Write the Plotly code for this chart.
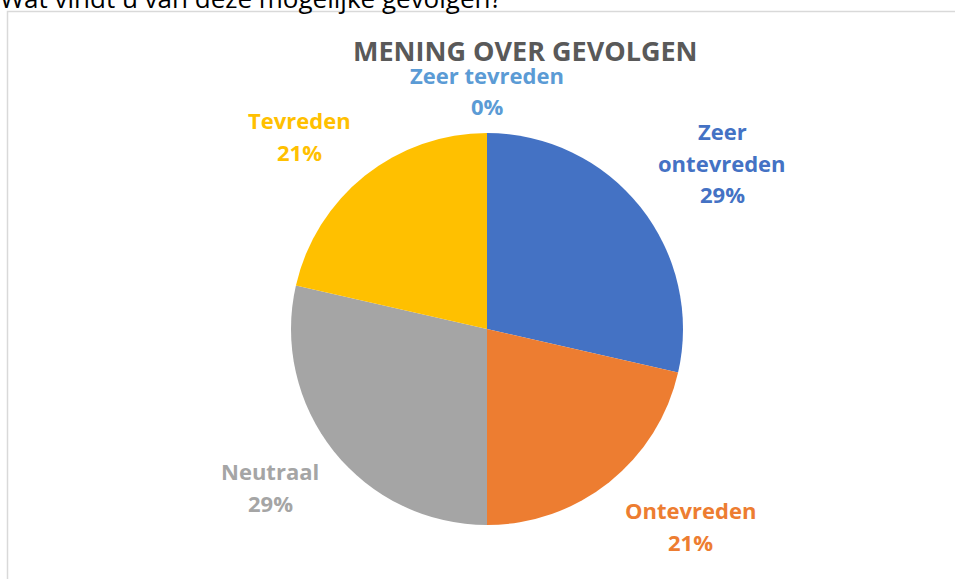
import plotly.graph_objects as go

# ---- data ----
categories = ["Zeer ontevreden", "Ontevreden", "Neutraal", "Tevreden", "Zeer tevreden"]
values = [4, 3, 4, 3, 0]
colors = ["#4472C4", "#ED7D31", "#A5A5A5", "#FFC000", "#5B9BD5"]
title_text = "MENING OVER GEVOLGEN"
question_text = "Wat vindt u van deze mogelijke gevolgen?"

# label line-breaks (as shown in the chart) and label anchor positions (px)
label_lines = [["Zeer", "ontevreden"], ["Ontevreden"], ["Neutraal"], ["Tevreden"], ["Zeer tevreden"]]
label_pos = [(722, 131), (690, 510), (270, 471), (299, 120), (487, 75)]

W, H = 955, 579
cx, cy, r = 487, 329, 196

fig = go.Figure()
fig.add_trace(go.Pie(
    labels=categories,
    values=values,
    marker=dict(colors=colors, line=dict(width=0)),
    sort=False,
    direction="clockwise",
    rotation=0,
    textinfo="none",
    hoverinfo="label+percent",
    showlegend=False,
    domain=dict(x=[(cx - r) / W, (cx + r) / W], y=[(H - cy - r) / H, (H - cy + r) / H]),
))

total = sum(values)
annotations = []
font_family = "Open Sans"
line_gap = 31.5
for lines, (px, py), v, c in zip(label_lines, label_pos, values, colors):
    pct = f"{round(100 * v / total)}%"
    all_lines = lines + [pct]
    for i, t in enumerate(all_lines):
        annotations.append(dict(
            x=px / W, y=1 - (py + i * line_gap) / H, xref="paper", yref="paper",
            text=f"<b>{t}</b>", showarrow=False, xanchor="center", yanchor="middle",
            font=dict(family=font_family, size=22, color=c),
        ))

annotations.append(dict(
    x=525 / W, y=1 - 51 / H, xref="paper", yref="paper",
    text=f"<b>{title_text}</b>", showarrow=False, xanchor="center", yanchor="middle",
    font=dict(family=font_family, size=27, color="#595959"),
))
annotations.append(dict(
    x=-2 / W, y=1 - 18 / H, xref="paper", yref="paper",
    text=question_text, showarrow=False, xanchor="left", yanchor="bottom",
    font=dict(family=font_family, size=26, color="#000000"),
))

fig.update_layout(
    width=W, height=H,
    margin=dict(l=0, r=0, t=0, b=0),
    paper_bgcolor="white", plot_bgcolor="white",
    annotations=annotations,
    shapes=[dict(type="rect", xref="paper", yref="paper",
                 x0=7.5 / W, x1=1.2, y0=-0.2, y1=1 - 11.5 / H,
                 line=dict(color="#D9D9D9", width=1.5), fillcolor="rgba(0,0,0,0)", layer="below")],
)

fig.write_html("out.html", config={"displayModeBar": False},
               post_script="document.body.style.margin='0';document.body.style.overflow='hidden';")
